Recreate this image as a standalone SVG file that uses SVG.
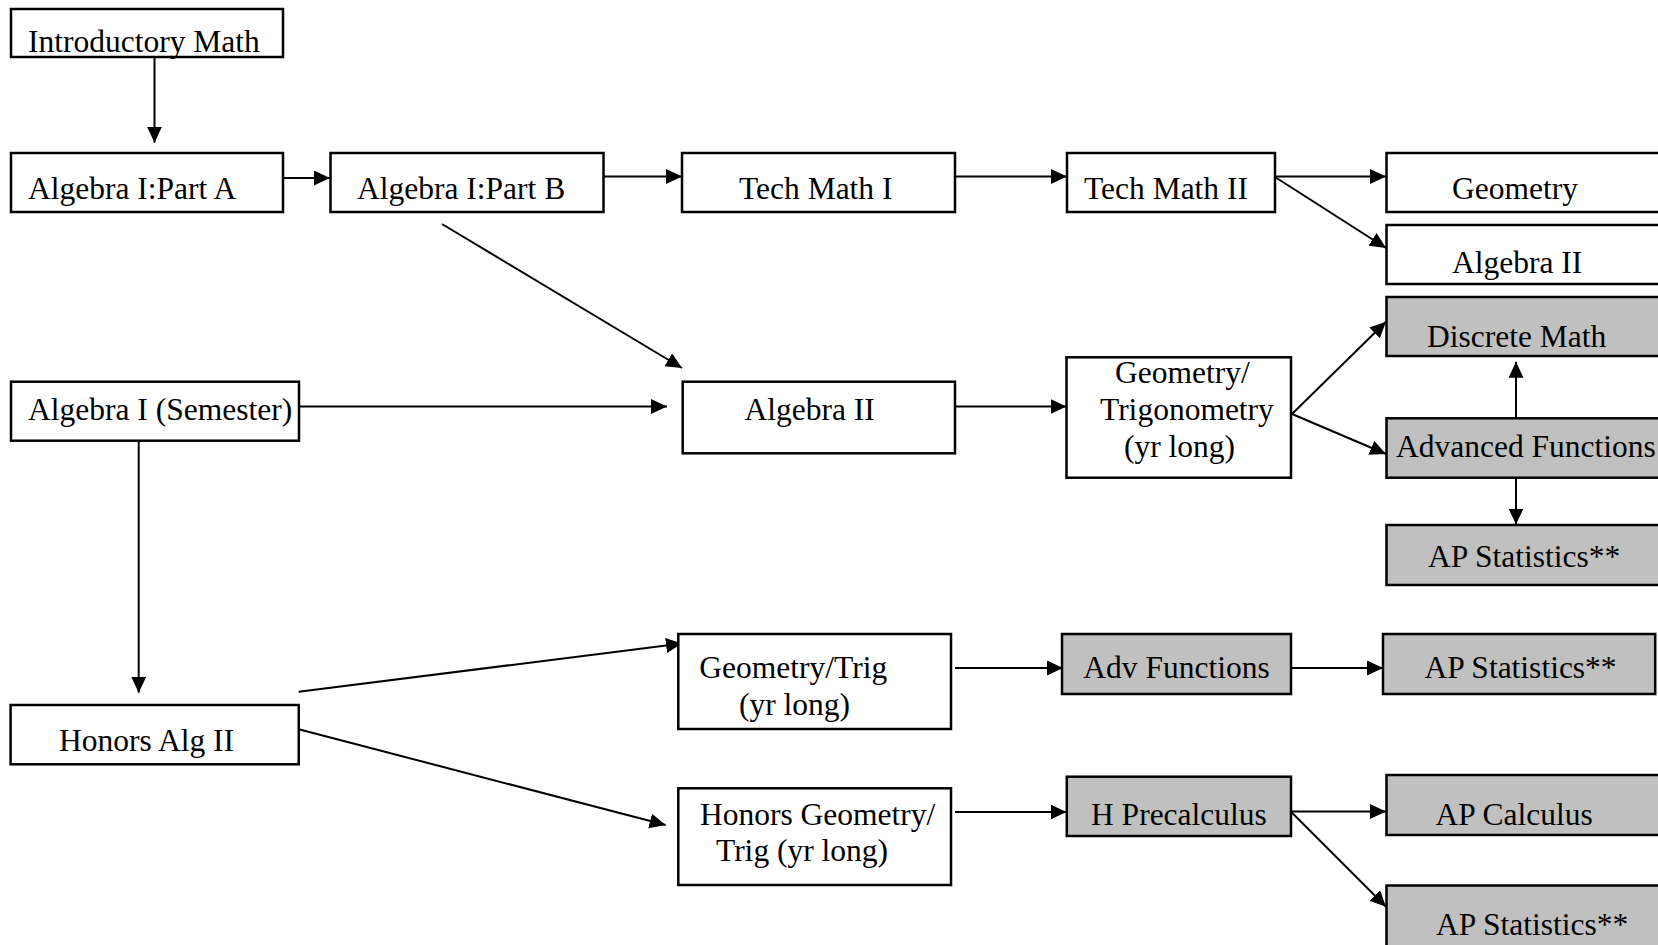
<svg xmlns="http://www.w3.org/2000/svg" width="1658" height="945" viewBox="0 0 1658 945">
<style>
.box{fill:#ffffff;stroke:#000000;stroke-width:2.5}
.grey{fill:#c0c0c0;stroke:#000000;stroke-width:2.5}
.t{font-family:"Liberation Serif","Times New Roman",serif;font-size:31.5px;fill:#000000}
.c{fill:none;stroke:#000000;stroke-width:2;marker-end:url(#arr)}
</style>
<defs>
<marker id="arr" markerUnits="userSpaceOnUse" markerWidth="17" markerHeight="16" refX="16" refY="7.5" orient="auto" viewBox="0 0 17 16">
<path d="M0,0 L16,7.5 L0,15 z" fill="#000000"/>
</marker>
</defs>
<rect width="1658" height="945" fill="#ffffff"/>
<g id="connectors">
<line class="c" x1="154.5" y1="57" x2="154.5" y2="142.7"/>
<line class="c" x1="283" y1="178" x2="330" y2="178"/>
<line class="c" x1="603.5" y1="176.5" x2="682" y2="176.5"/>
<line class="c" x1="955" y1="176.5" x2="1067" y2="176.5"/>
<line class="c" x1="1275" y1="176.5" x2="1386" y2="176.5"/>
<line class="c" x1="1275" y1="177" x2="1386" y2="248"/>
<line class="c" x1="442" y1="224" x2="682" y2="368"/>
<line class="c" x1="299" y1="406.5" x2="667" y2="406.5"/>
<line class="c" x1="955" y1="406.5" x2="1066.5" y2="406.5"/>
<line class="c" x1="1292" y1="414" x2="1386" y2="321.7"/>
<line class="c" x1="1292" y1="414" x2="1386" y2="454"/>
<line class="c" x1="1516" y1="418" x2="1516" y2="361.7"/>
<line class="c" x1="1516" y1="477.7" x2="1516" y2="524.5"/>
<line class="c" x1="138.7" y1="440.7" x2="138.7" y2="692.7"/>
<line class="c" x1="298.75" y1="691.7" x2="682" y2="643.5"/>
<line class="c" x1="298.75" y1="729.3" x2="665.6" y2="825"/>
<line class="c" x1="955" y1="668" x2="1063" y2="668"/>
<line class="c" x1="1291" y1="668" x2="1383" y2="668"/>
<line class="c" x1="955" y1="812" x2="1066.5" y2="812"/>
<line class="c" x1="1291" y1="811.5" x2="1386" y2="811.5"/>
<line class="c" x1="1291" y1="811.7" x2="1386" y2="906.7"/>
</g>
<g id="introductory-math"><rect class="box" x="11" y="9" width="272" height="48"/><text class="t" x="28" y="52">Introductory Math</text></g>
<g id="algebra-i-part-a"><rect class="box" x="11" y="153" width="272" height="59"/><text class="t" x="28" y="199">Algebra I:Part A</text></g>
<g id="algebra-i-part-b"><rect class="box" x="330.5" y="153" width="273" height="59"/><text class="t" x="357" y="199">Algebra I:Part B</text></g>
<g id="tech-math-i"><rect class="box" x="682" y="153" width="273" height="59"/><text class="t" x="739" y="199">Tech Math I</text></g>
<g id="tech-math-ii"><rect class="box" x="1067" y="153" width="208" height="59"/><text class="t" x="1084" y="199">Tech Math II</text></g>
<g id="geometry"><rect class="box" x="1386.5" y="153" width="320" height="59"/><text class="t" x="1452" y="199">Geometry</text></g>
<g id="algebra-ii-top"><rect class="box" x="1386.5" y="225" width="320" height="59"/><text class="t" x="1452" y="272.5">Algebra II</text></g>
<g id="discrete-math"><rect class="grey" x="1386.5" y="297" width="320" height="59"/><text class="t" x="1427" y="346.5">Discrete Math</text></g>
<g id="algebra-i-semester"><rect class="box" x="11" y="381.7" width="288" height="59"/><text class="t" x="28" y="420">Algebra I (Semester)</text></g>
<g id="algebra-ii"><rect class="box" x="682.7" y="381.7" width="272.3" height="71.6"/><text class="t" x="744.5" y="420">Algebra II</text></g>
<g id="geometry-trigonometry"><rect class="box" x="1066.5" y="357.3" width="224.5" height="120.4"/><text class="t" x="1115" y="382.7">Geometry/</text><text class="t" x="1100" y="420">Trigonometry</text><text class="t" x="1124" y="456.7">(yr long)</text></g>
<g id="advanced-functions"><rect class="grey" x="1386.5" y="418.3" width="320" height="59.4"/><text class="t" x="1396" y="456.5">Advanced Functions</text></g>
<g id="ap-statistics-1"><rect class="grey" x="1386.5" y="525" width="320" height="60"/><text class="t" x="1428" y="566.5">AP Statistics**</text></g>
<g id="honors-alg-ii"><rect class="box" x="10.6" y="705" width="288.15" height="59.3"/><text class="t" x="59" y="750.5">Honors Alg II</text></g>
<g id="geometry-trig"><rect class="box" x="678.3" y="634" width="272.7" height="95"/><text class="t" x="699.3" y="678">Geometry/Trig</text><text class="t" x="739" y="715">(yr long)</text></g>
<g id="honors-geometry-trig"><rect class="box" x="678.3" y="788.3" width="272.7" height="96.7"/><text class="t" x="700" y="824.5">Honors Geometry/</text><text class="t" x="716" y="861">Trig (yr long)</text></g>
<g id="adv-functions"><rect class="grey" x="1062" y="634" width="229" height="60"/><text class="t" x="1083.3" y="678">Adv Functions</text></g>
<g id="ap-statistics-2"><rect class="grey" x="1383" y="634" width="272.2" height="60"/><text class="t" x="1424.4" y="678">AP Statistics**</text></g>
<g id="h-precalculus"><rect class="grey" x="1066.8" y="776.7" width="224.2" height="59.3"/><text class="t" x="1091" y="824.5">H Precalculus</text></g>
<g id="ap-calculus"><rect class="grey" x="1386.5" y="775" width="320" height="60"/><text class="t" x="1435.5" y="824.5">AP Calculus</text></g>
<g id="ap-statistics-3"><rect class="grey" x="1386.5" y="885.5" width="320" height="80"/><text class="t" x="1436" y="934.5">AP Statistics**</text></g>
</svg>
